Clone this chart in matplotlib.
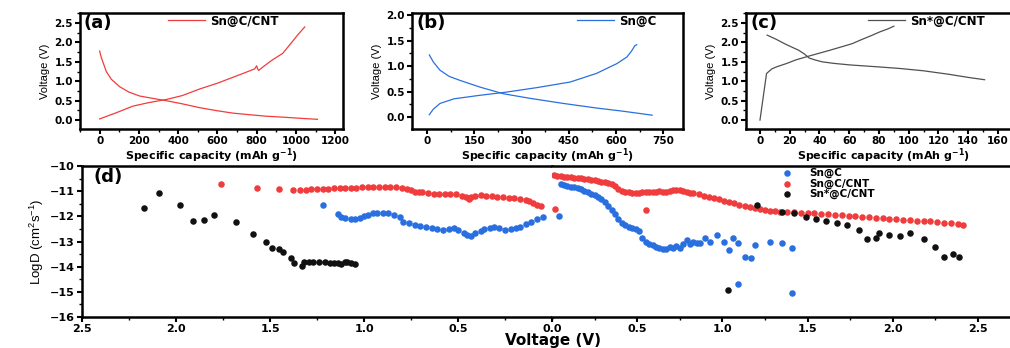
import numpy as np
import matplotlib
matplotlib.use("Agg")
import matplotlib.pyplot as plt
from matplotlib.ticker import MultipleLocator, AutoMinorLocator

plt.rcParams['font.family'] = ['DejaVu Sans']
plt.rcParams['font.weight'] = 'bold'
plt.rcParams['mathtext.default'] = 'regular'

# ---- (a) Sn@C/CNT charge/discharge ----
a_dis_cap = [0, 8, 20, 34, 60, 102, 150, 204, 270, 339, 420, 509, 600, 678, 760, 848, 950, 1040, 1110]
a_dis_v = [1.78, 1.62, 1.45, 1.25, 1.05, 0.86, 0.72, 0.62, 0.56, 0.50, 0.42, 0.32, 0.24, 0.18, 0.14, 0.10, 0.07, 0.04, 0.02]
a_chg_cap = [0, 80, 170, 250, 339, 420, 509, 600, 678, 740, 790, 800, 805, 810, 840, 880, 933, 975, 1010, 1045]
a_chg_v = [0.03, 0.18, 0.36, 0.45, 0.53, 0.63, 0.80, 0.95, 1.10, 1.22, 1.32, 1.40, 1.32, 1.28, 1.40, 1.55, 1.72, 1.98, 2.20, 2.40]

# ---- (b) Sn@C ----
b_dis_cap = [7, 20, 41, 70, 105, 168, 242, 327, 433, 539, 620, 680, 715]
b_dis_v = [1.22, 1.08, 0.92, 0.80, 0.72, 0.59, 0.46, 0.37, 0.27, 0.18, 0.12, 0.07, 0.04]
b_chg_cap = [7, 20, 41, 85, 168, 250, 349, 455, 539, 603, 635, 650, 660, 666]
b_chg_v = [0.05, 0.16, 0.27, 0.36, 0.43, 0.49, 0.58, 0.69, 0.86, 1.05, 1.18, 1.30, 1.40, 1.42]

# ---- (c) Sn*@C/CNT ----
c_dis_cap = [4.8, 11, 17.5, 26, 30, 33, 37, 42, 50, 61, 80, 94, 110, 127, 140, 151]
c_dis_v = [2.19, 2.08, 1.95, 1.80, 1.70, 1.60, 1.55, 1.50, 1.46, 1.42, 1.37, 1.33, 1.27, 1.18, 1.10, 1.04]
c_chg_cap = [0, 4.4, 8, 11, 18, 24, 32, 39.5, 47, 55, 62, 68, 75, 81, 86, 90]
c_chg_v = [0.0, 1.20, 1.32, 1.37, 1.46, 1.55, 1.64, 1.72, 1.80, 1.89, 1.97, 2.07, 2.18, 2.28, 2.35, 2.42]

# ---- (d) LogD, left part (discharge, 2.5 -> 0 V) ----
blk_l_v = [2.17, 2.09, 1.98, 1.91, 1.85, 1.80, 1.68, 1.59, 1.52, 1.49, 1.45, 1.43, 1.39, 1.37, 1.33, 1.32,
           1.29, 1.27, 1.24, 1.21, 1.18, 1.16, 1.14, 1.12, 1.10, 1.09, 1.07, 1.05]
blk_l_d = [-11.65, -11.08, -11.55, -12.18, -12.14, -11.94, -12.23, -12.70, -13.03, -13.27, -13.31, -13.40,
           -13.64, -13.86, -13.97, -13.80, -13.82, -13.80, -13.83, -13.80, -13.85, -13.87, -13.84, -13.89,
           -13.83, -13.80, -13.86, -13.89]
red_l_v = [1.76, 1.57, 1.45, 1.38, 1.34, 1.31, 1.28, 1.25, 1.22, 1.19, 1.16, 1.13, 1.10, 1.07, 1.04, 1.01,
           0.98, 0.95, 0.92, 0.89, 0.86, 0.83, 0.80, 0.77, 0.75, 0.73, 0.71, 0.69, 0.66, 0.63, 0.60, 0.57,
           0.54, 0.51, 0.48, 0.46, 0.44, 0.43, 0.41, 0.38, 0.35, 0.32, 0.29, 0.26, 0.23, 0.20, 0.17, 0.14,
           0.12, 0.10, 0.08, 0.06]
red_l_d = [-10.71, -10.86, -10.91, -10.97, -10.96, -10.95, -10.93, -10.92, -10.92, -10.90, -10.89, -10.88,
           -10.87, -10.86, -10.86, -10.85, -10.85, -10.84, -10.84, -10.84, -10.83, -10.84, -10.86, -10.90,
           -10.95, -11.05, -11.02, -11.05, -11.08, -11.10, -11.10, -11.12, -11.10, -11.13, -11.18, -11.22,
           -11.33, -11.25, -11.18, -11.16, -11.18, -11.20, -11.22, -11.24, -11.26, -11.28, -11.32, -11.36,
           -11.40, -11.46, -11.53, -11.60]
blu_l_v = [1.22, 1.14, 1.12, 1.10, 1.07, 1.05, 1.02, 1.00, 0.98, 0.95, 0.93, 0.90, 0.87, 0.84, 0.81, 0.79,
           0.76, 0.73, 0.70, 0.67, 0.64, 0.61, 0.58, 0.55, 0.52, 0.50, 0.47, 0.45, 0.43, 0.41, 0.38, 0.36,
           0.33, 0.31, 0.28, 0.25, 0.22, 0.19, 0.17, 0.14, 0.11, 0.08, 0.05]
blu_l_d = [-11.55, -11.90, -12.03, -12.08, -12.10, -12.12, -12.05, -11.98, -11.94, -11.88, -11.85, -11.86,
           -11.88, -11.94, -12.02, -12.21, -12.27, -12.33, -12.38, -12.43, -12.47, -12.50, -12.56, -12.52,
           -12.47, -12.55, -12.68, -12.74, -12.78, -12.68, -12.58, -12.50, -12.45, -12.42, -12.48, -12.54,
           -12.52, -12.45, -12.41, -12.32, -12.21, -12.12, -12.04]

# ---- (d) LogD, right part (charge, 0 -> 2.5 V) ----
red_r_v = [0.02, 0.55, 0.01, 0.03, 0.05, 0.07, 0.09, 0.11, 0.13, 0.15, 0.17, 0.19, 0.21, 0.23, 0.25, 0.27,
           0.29, 0.31, 0.33, 0.35, 0.37, 0.39, 0.41, 0.43, 0.45, 0.47, 0.49, 0.51, 0.53, 0.55, 0.57, 0.59,
           0.61, 0.63, 0.65, 0.67, 0.69, 0.71, 0.73, 0.75, 0.77, 0.79, 0.81, 0.83, 0.86, 0.89, 0.92, 0.95,
           0.98, 1.01, 1.04, 1.07, 1.10, 1.13, 1.16, 1.19, 1.22, 1.25, 1.28, 1.31, 1.34, 1.38, 1.42, 1.46,
           1.50, 1.54, 1.58, 1.62, 1.66, 1.70, 1.74, 1.78, 1.82, 1.86, 1.90, 1.94, 1.98, 2.02, 2.06, 2.10,
           2.14, 2.18, 2.22, 2.26, 2.30, 2.34, 2.38, 2.41]
red_r_d = [-11.70, -11.75, -10.36, -10.38, -10.40, -10.42, -10.43, -10.45, -10.46, -10.47, -10.48, -10.50,
           -10.52, -10.54, -10.56, -10.59, -10.62, -10.65, -10.68, -10.72, -10.80, -10.90, -10.98, -11.03,
           -11.05, -11.06, -11.07, -11.06, -11.05, -11.05, -11.03, -11.02, -11.02, -11.00, -11.02, -11.05,
           -10.98, -10.96, -10.95, -10.97, -11.00, -11.03, -11.06, -11.08, -11.12, -11.18, -11.23, -11.28,
           -11.33, -11.38, -11.43, -11.49, -11.55, -11.60, -11.64, -11.67, -11.70, -11.73, -11.77, -11.80,
           -11.82, -11.83, -11.84, -11.85, -11.86, -11.88, -11.90, -11.92, -11.94, -11.96, -11.98, -12.00,
           -12.02, -12.04, -12.06, -12.08, -12.10, -12.11, -12.13, -12.15, -12.17, -12.19, -12.20, -12.22,
           -12.25, -12.28, -12.31, -12.34]
blu_r_v = [0.04, 0.05, 0.07, 0.09, 0.11, 0.13, 0.15, 0.17, 0.19, 0.21, 0.23, 0.25, 0.27, 0.29, 0.31, 0.33,
           0.35, 0.37, 0.39, 0.41, 0.43, 0.45, 0.47, 0.49, 0.51, 0.53, 0.55, 0.57, 0.59, 0.61, 0.63, 0.65,
           0.67, 0.69, 0.71, 0.73, 0.75, 0.77, 0.79, 0.81, 0.83, 0.85, 0.87, 0.90, 0.93, 0.97, 1.01, 1.04,
           1.06, 1.09, 1.13, 1.17, 1.19, 1.28, 1.35, 1.41, 1.09, 1.41]
blu_r_d = [-12.00, -10.73, -10.76, -10.79, -10.82, -10.85, -10.89, -10.93, -10.98, -11.04, -11.10, -11.17,
           -11.24, -11.33, -11.45, -11.60, -11.75, -11.92, -12.10, -12.25, -12.36, -12.42, -12.46, -12.52,
           -12.60, -12.85, -13.02, -13.10, -13.15, -13.20, -13.25, -13.30, -13.28, -13.22, -13.25, -13.17,
           -13.25, -13.10, -12.94, -13.10, -13.00, -13.05, -13.04, -12.87, -13.00, -12.74, -13.00, -13.33,
           -12.87, -13.07, -13.60, -13.67, -13.13, -13.00, -13.07, -13.27, -14.68, -15.05]
blk_r_v = [1.03, 1.20, 1.35, 1.42, 1.49, 1.55, 1.61, 1.67, 1.73, 1.80, 1.85, 1.90, 1.92, 1.98, 2.04, 2.10,
           2.18, 2.25, 2.30, 2.35, 2.39]
blk_r_d = [-14.92, -11.55, -11.81, -11.88, -12.01, -12.10, -12.17, -12.25, -12.34, -12.54, -12.90, -12.87,
           -12.67, -12.74, -12.78, -12.65, -12.91, -13.20, -13.60, -13.49, -13.60]

RED = '#f03c3c'
BLUE = '#2a6fe0'
BLK = '#111111'
GRAY = '#505050'
NARROW = ['Liberation Sans Narrow', 'Liberation Sans']

W, H = 1010, 348
fig = plt.figure(figsize=(W / 100, H / 100), dpi=100)


def px_axes(left, top, right, bottom):
    return fig.add_axes([left / W, 1 - bottom / H, (right - left) / W, (bottom - top) / H])


def style(ax, size=7.5):
    for s in ax.spines.values():
        s.set_linewidth(1.8)
    ax.tick_params(which='major', direction='out', length=3.5, width=1.5, labelsize=size, pad=1.5)
    ax.tick_params(which='minor', direction='out', length=2, width=1.0)


def bold_ticks(ax):
    for lab in ax.get_xticklabels() + ax.get_yticklabels():
        lab.set_fontweight('bold')


tops = [
    (80, 343, a_dis_cap, a_dis_v, a_chg_cap, a_chg_v, RED, 'Sn@C/CNT', (-100, 1240), 200, (-0.23, 2.76), 0.5, '(a)', 0.335),
    (412, 683, b_dis_cap, b_dis_v, b_chg_cap, b_chg_v, BLUE, 'Sn@C', (-48, 813), 150, (-0.23, 2.04), 0.5, '(b)', 0.609),
    (746, 1020, c_dis_cap, c_dis_v, c_chg_cap, c_chg_v, GRAY, 'Sn*@C/CNT', (-9.4, 174.8), 20, (-0.23, 2.76), 0.5, '(c)', 0.445),
]
top_axes = []
for left, right, dx, dy, cx, cy, col, lab, xl, xstep, yl, ystep, tag, lx in tops:
    ax = px_axes(left, 13, right, 129)
    ax.plot(dx, dy, color=col, lw=0.9, label=lab)
    ax.plot(cx, cy, color=col, lw=0.9)
    ax.set_xlim(*xl)
    ax.set_ylim(*yl)
    ax.xaxis.set_major_locator(MultipleLocator(xstep))
    ax.yaxis.set_major_locator(MultipleLocator(ystep))
    ax.xaxis.set_minor_locator(AutoMinorLocator(2))
    ax.yaxis.set_minor_locator(AutoMinorLocator(2))
    style(ax)
    ax.set_xlabel('Specific capacity (mAh g$^{-1}$)', fontsize=8, fontweight='bold', labelpad=0)
    ax.set_ylabel('Voltage (V)', fontsize=8, fontweight='normal', family=NARROW, labelpad=3)
    ax.text(0.015, 0.99, tag, transform=ax.transAxes, fontsize=13, fontweight='bold', va='top', ha='left')
    ax.legend(loc='center left', bbox_to_anchor=(lx, 0.93), frameon=False, fontsize=8.5,
              handlelength=3.1, handletextpad=0.5, borderaxespad=0, borderpad=0)
    top_axes.append(ax)

# ---- bottom panel: two halves sharing y ----
axl = px_axes(82, 166, 552, 317)
axr = px_axes(552, 166, 1020, 317)

ms = 22
axl.scatter(blu_l_v, blu_l_d, s=ms, color=BLUE, lw=0)
axl.scatter(red_l_v, red_l_d, s=ms, color=RED, lw=0)
axl.scatter(blk_l_v, blk_l_d, s=ms, color=BLK, lw=0)
axr.scatter(blu_r_v, blu_r_d, s=ms, color=BLUE, lw=0, label='Sn@C')
axr.scatter(red_r_v, red_r_d, s=ms, color=RED, lw=0, label='Sn@C/CNT')
axr.scatter(blk_r_v, blk_r_d, s=ms, color=BLK, lw=0, label='Sn*@C/CNT')

axl.set_xlim(2.5, 0.0)
axr.set_xlim(0.0, 2.746)
for ax in (axl, axr):
    ax.set_ylim(-16, -10)
    ax.xaxis.set_major_locator(MultipleLocator(0.5))
    ax.xaxis.set_minor_locator(AutoMinorLocator(2))
    ax.yaxis.set_major_locator(MultipleLocator(1))
    ax.yaxis.set_minor_locator(AutoMinorLocator(2))
    style(ax, size=8)

axl.spines['right'].set_visible(False)
axr.spines['left'].set_visible(False)
axr.tick_params(axis='y', which='both', left=False, labelleft=False)
# one shared 0.0 label, drawn by the right half
axl.set_xticks([2.5, 2.0, 1.5, 1.0, 0.5])
axl.set_xticklabels(['2.5', '2.0', '1.5', '1.0', '0.5'])

axl.set_ylabel('LogD (cm$^2$s$^{-1}$)', fontsize=9.5, fontweight='normal', family=NARROW, labelpad=3)
fig.text(553 / W, 1 - 340 / H, 'Voltage (V)', fontsize=11, fontweight='bold', ha='center', va='center')
axl.text(0.025, 0.99, '(d)', transform=axl.transAxes, fontsize=13, fontweight='bold', va='top', ha='left')
axr.legend(loc='upper left', bbox_to_anchor=(0.475, 1.0), frameon=False, fontsize=7.5,
           handletextpad=1.2, labelspacing=0.0, borderaxespad=0, borderpad=0.2)

fig.canvas.draw()
for ax in top_axes + [axl, axr]:
    bold_ticks(ax)

fig.savefig('out.png', dpi=100)
